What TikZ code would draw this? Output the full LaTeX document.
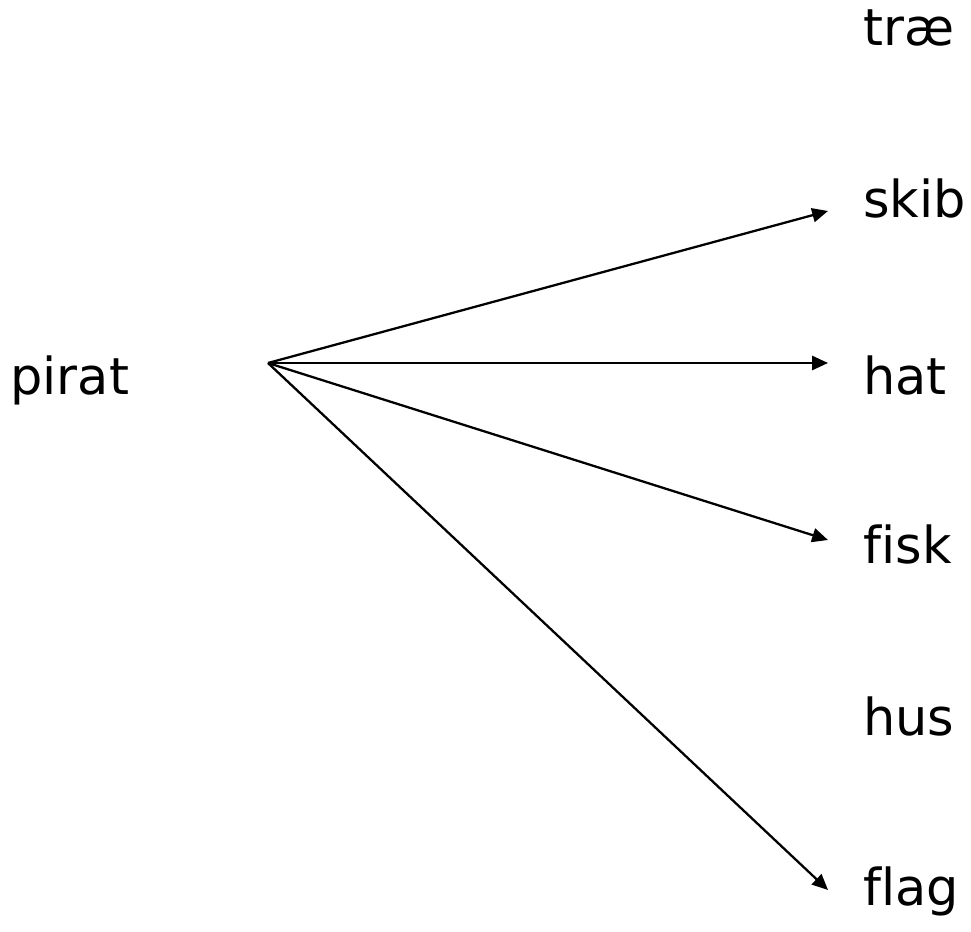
\documentclass[tikz,border=0pt]{standalone}
\usepackage{fontspec}
\setmainfont[Ligatures=NoCommon]{DejaVu Sans}
\usetikzlibrary{arrows.meta}

\tikzset{
  word/.style={font=\fontsize{29}{34}\selectfont, anchor=base west, inner sep=0pt},
  link/.style={line width=1.3pt, -{Triangle[length=9pt, width=8pt]}}
}

\begin{document}
\begin{tikzpicture}[x=0.02cm, y=-0.02cm]

\useasboundingbox (0,0) rectangle (971,932);

% words
\node[word] (pirat) at (10,395) {pirat};
\node[word] (trae) at (863,46) {træ};
\node[word] (skib) at (863,218) {skib};
\node[word] (hat) at (863,395) {hat};
\node[word] (fisk) at (863,563) {fisk};
\node[word] (hus) at (863,735) {hus};
\node[word] (flag) at (863,905) {flag};

% start and end points
\coordinate (from) at (268,363);
\coordinate (to skib) at (828,211);
\coordinate (to hat) at (828,363);
\coordinate (to fisk) at (828,540);
\coordinate (to flag) at (828,890);

% arrows
\foreach \w in {skib,hat,fisk,flag}
  \draw[link] (from) -- (to \w);

\end{tikzpicture}
\end{document}
